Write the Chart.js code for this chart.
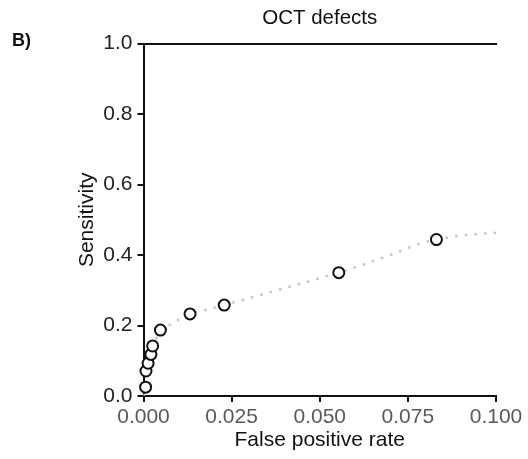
<!DOCTYPE html>
<html>
<head>
<meta charset="utf-8">
<script src="https://cdn.jsdelivr.net/npm/chart.js@4/dist/chart.umd.min.js"></script>
<style>
  html, body { margin: 0; padding: 0; background: #fff; }
  #wrap { position: relative; width: 528px; height: 459px; }
  #panel { position: absolute; left: 12px; top: 30px; font: bold 18px "Liberation Sans", Arial, sans-serif; color: #111; }
</style>
</head>
<body>
<div id="wrap">
  <canvas id="grafik" width="528" height="459"></canvas>
  <div id="panel">B)</div>
</div>
<script>
// observed operating points (false positive rate, sensitivity)
const fpr = [0.0006, 0.0007, 0.0013, 0.0021, 0.0026, 0.0048, 0.0132, 0.0229, 0.0554, 0.0831];
const sens = [0.025, 0.071, 0.093, 0.118, 0.142, 0.187, 0.233, 0.258, 0.350, 0.444];

// fitted curve
const fitFpr = [0, 0.001, 0.002, 0.0035, 0.005, 0.008, 0.0133, 0.02, 0.03, 0.04, 0.05, 0.06, 0.07, 0.08, 0.09, 0.1];
const fitSens = [0, 0.07, 0.12, 0.16, 0.185, 0.205, 0.232, 0.25, 0.278, 0.306, 0.334, 0.365, 0.40, 0.437, 0.455, 0.463];

const xTicks = [0, 0.025, 0.05, 0.075, 0.1];
const yTicks = [0, 0.2, 0.4, 0.6, 0.8, 1.0];

const yazi = '"Liberation Sans", Arial, sans-serif';

function noktalar(xs, ys) {
  return xs.map((x, i) => ({ x: x, y: ys[i] }));
}

const canvas = document.getElementById("grafik");

new Chart(canvas, {
  type: "scatter",
  data: {
    datasets: [
      {
        label: "points",
        data: noktalar(fpr, sens),
        showLine: false,
        pointRadius: 5.5,
        pointBorderWidth: 2,
        pointBorderColor: "#111",
        pointBackgroundColor: "#fff",
        clip: false
      },
      {
        label: "fit",
        data: noktalar(fitFpr, fitSens),
        showLine: true,
        pointRadius: 0,
        borderColor: "#c4c4c4",
        borderWidth: 2.5,
        borderDash: [2.5, 7.2],
        cubicInterpolationMode: "monotone",
        fill: false
      }
    ]
  },
  options: {
    responsive: false,
    animation: false,
    layout: { padding: { left: 71, right: 32, top: 6, bottom: 2.4 } },
    plugins: {
      legend: { display: false },
      tooltip: { enabled: false },
      title: {
        display: true,
        text: "OCT defects",
        fullSize: false,
        color: "#111",
        font: { family: yazi, size: 20.5, weight: "normal" },
        padding: { top: 0, bottom: 0 }
      }
    },
    scales: {
      x: {
        type: "linear",
        min: 0,
        max: 0.1,
        afterBuildTicks: (s) => { s.ticks = xTicks.map((v) => ({ value: v })); },
        afterFit: (s) => { s.height = 60.6; },
        ticks: {
          color: "#5a5a5a",
          padding: 3,
          font: { family: yazi, size: 21 },
          callback: (v) => v.toFixed(3)
        },
        grid: { drawOnChartArea: false, drawTicks: true, tickLength: 6, color: "#111", lineWidth: 2 },
        border: { color: "#111", width: 2 },
        title: {
          display: true,
          text: "False positive rate",
          color: "#111",
          font: { family: yazi, size: 21 },
          padding: { top: 0, bottom: 4 }
        }
      },
      x2: {
        type: "linear",
        position: "top",
        min: 0,
        max: 0.1,
        afterFit: (s) => { s.height = 13; },
        ticks: { display: false },
        grid: { display: false },
        border: { color: "#111", width: 2 }
      },
      y: {
        type: "linear",
        min: 0,
        max: 1,
        afterBuildTicks: (s) => { s.ticks = yTicks.map((v) => ({ value: v })); },
        afterFit: (s) => { s.width = 72.5; },
        ticks: {
          color: "#222",
          padding: 5,
          font: { family: yazi, size: 21 },
          callback: (v) => v.toFixed(1)
        },
        grid: { drawOnChartArea: false, drawTicks: true, tickLength: 6, color: "#111", lineWidth: 2 },
        border: { color: "#111", width: 2 },
        title: {
          display: true,
          text: "Sensitivity",
          color: "#111",
          font: { family: yazi, size: 21 },
          padding: 4
        }
      }
    }
  }
});
</script>
</body>
</html>
